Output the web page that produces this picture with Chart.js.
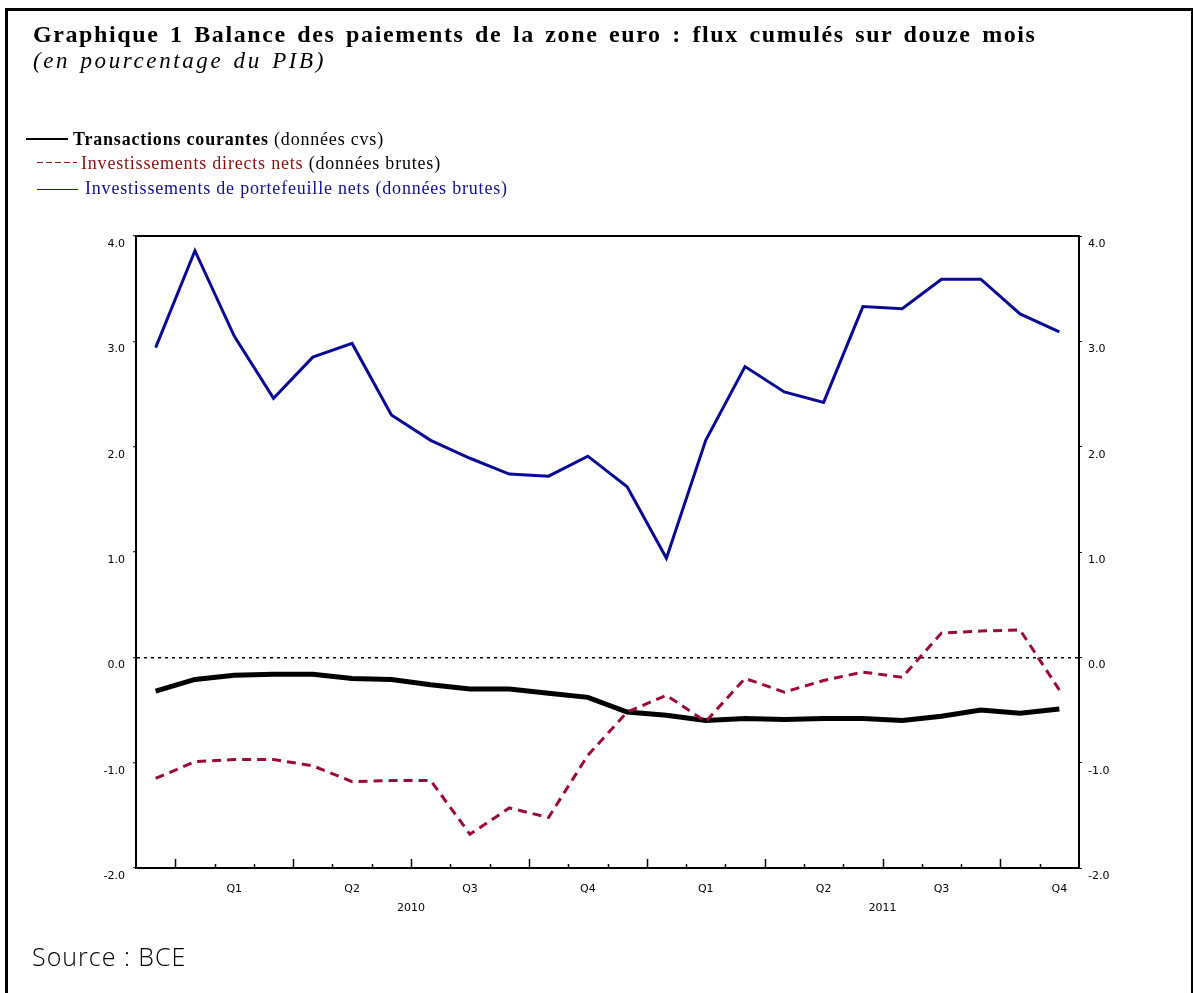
<!DOCTYPE html>
<html><head><meta charset="utf-8">
<script src="https://cdn.jsdelivr.net/npm/chart.js@4.4.1/dist/chart.umd.min.js"></script>
<style>
html,body{margin:0;padding:0;background:#fff;width:1193px;height:993px;overflow:hidden;}
#frame{position:absolute;left:5px;top:8px;width:1183px;height:1100px;border:3px solid #000;border-bottom:none;}
#c{position:absolute;left:0;top:0;}
.t{position:absolute;white-space:nowrap;font-family:"Liberation Serif","Times New Roman",serif;color:#000;}
#title{left:33px;top:22px;font-size:24px;line-height:24px;font-weight:bold;letter-spacing:1.6px;word-spacing:3px;}
#sub{left:33px;top:49px;font-size:23px;line-height:23px;font-style:italic;letter-spacing:2.6px;word-spacing:2px;}
.lg{font-size:18px;line-height:18px;letter-spacing:0.8px;}
.mk{position:absolute;}
#src{position:absolute;left:32px;top:944px;font-family:"Open Sans",sans-serif;font-size:25px;line-height:24px;font-weight:300;letter-spacing:1px;color:#000;white-space:nowrap;}
</style></head>
<body>
<div id="frame"></div>
<canvas id="c" width="1193" height="993"></canvas>
<div class="t" id="title">Graphique 1 Balance des paiements de la zone euro : flux cumulés sur douze mois</div>
<div class="t" id="sub">(en pourcentage du PIB)</div>
<div class="mk" style="left:26px;top:138px;width:42px;height:2px;background:#000;"></div>
<div class="t lg" style="left:73px;top:130px;"><b>Transactions courantes</b> (données cvs)</div>
<div class="mk" style="left:37px;top:162px;width:40px;height:1px;background:repeating-linear-gradient(90deg,#8b1a1a 0 6px,transparent 6px 9px);"></div>
<div class="t lg" style="left:81px;top:154px;"><span style="color:#8b1010">Investissements directs nets</span> (données brutes)</div>
<div class="mk" style="left:37px;top:189px;width:41px;height:1px;background:#1a1a9a;"></div>
<div class="t lg" style="left:85px;top:179px;color:#10108c;">Investissements de portefeuille nets (données brutes)</div>
<div id="src">Source : BCE</div>
<script>
const months = ['2009-12','2010-01','2010-02','2010-03','2010-04','2010-05','2010-06','2010-07','2010-08','2010-09','2010-10','2010-11',
                '2010-12','2011-01','2011-02','2011-03','2011-04','2011-05','2011-06','2011-07','2011-08','2011-09','2011-10','2011-11'];
const currentAccount = [-0.32,-0.21,-0.17,-0.16,-0.16,-0.20,-0.21,-0.26,-0.30,-0.30,-0.34,-0.38,
                        -0.52,-0.55,-0.60,-0.58,-0.59,-0.58,-0.58,-0.60,-0.56,-0.50,-0.53,-0.49];
const directInvestment = [-1.15,-0.99,-0.97,-0.97,-1.03,-1.18,-1.17,-1.17,-1.68,-1.43,-1.52,-0.93,
                          -0.52,-0.36,-0.61,-0.20,-0.33,-0.22,-0.14,-0.19,0.23,0.25,0.26,-0.31];
const portfolioInvestment = [2.94,3.86,3.05,2.46,2.85,2.98,2.30,2.06,1.89,1.74,1.72,1.91,
                             1.62,0.94,2.06,2.76,2.52,2.42,3.33,3.31,3.59,3.59,3.26,3.09];
const yTicks = [-2,-1,0,1,2,3,4];
const quarterLabels = {'02':'Q1','05':'Q2','08':'Q3','11':'Q4'};
const quarterStarts = ['01','04','07','10'];
const yearLabels = ['2010','2011'];

const tickFont = {family:'"DejaVu Sans", sans-serif', size:11};

const frameAndTicks = {
  id:'frameAndTicks',
  afterDraw(chart){
    const {ctx, chartArea:a, scales:{x}} = chart;
    ctx.save();
    ctx.strokeStyle = '#000';
    ctx.lineWidth = 2;
    ctx.beginPath(); ctx.moveTo(a.left-1, a.top); ctx.lineTo(a.right+1, a.top); ctx.stroke();
    ctx.lineWidth = 1.5;
    for (let i = 1; i < months.length; i++) {
      const px = Math.round(x.getPixelForValue(i - 0.5)) + 0.5;
      const len = quarterStarts.includes(months[i].slice(5)) ? 9 : 4;
      ctx.beginPath(); ctx.moveTo(px, a.bottom); ctx.lineTo(px, a.bottom - len); ctx.stroke();
    }
    ctx.restore();
  }
};

new Chart(document.getElementById('c'), {
  type:'line',
  data:{
    labels: months,
    datasets:[
      {label:'Transactions courantes', data:currentAccount, borderColor:'#000', borderWidth:5, pointRadius:0, tension:0, order:1, yAxisID:'y', xAxisID:'x'},
      {label:'Investissements directs nets', data:directInvestment, borderColor:'#9c0a3c', borderWidth:3, borderDash:[9,6], pointRadius:0, tension:0, order:0, yAxisID:'y', xAxisID:'x'},
      {label:'Investissements de portefeuille nets', data:portfolioInvestment, borderColor:'#0a0a94', borderWidth:3, pointRadius:0, tension:0, order:2, yAxisID:'y', xAxisID:'x'}
    ]
  },
  options:{
    responsive:false, animation:false, devicePixelRatio:1,
    layout:{padding:{top:236,left:0,right:0,bottom:77}},
    plugins:{legend:{display:false}, tooltip:{enabled:false}, title:{display:false}},
    scales:{
      x:{type:'category', position:'bottom', offset:true, weight:0,
         grid:{display:false, drawTicks:false},
         border:{display:true, color:'#000', width:2},
         ticks:{autoSkip:false, maxRotation:0, minRotation:0, padding:15, font:tickFont, color:'#000',
                callback:(v,i)=> quarterLabels[months[i].slice(5)] || ''},
         afterFit(s){ s.height = 28; }},
      x2:{type:'linear', position:'bottom', weight:1, min:-0.5, max:months.length-0.5,
          grid:{display:false, drawTicks:false}, border:{display:false},
          afterBuildTicks(s){ s.ticks = yearLabels.map(y => ({value: months.indexOf(y + '-07') - 0.5})); },
          ticks:{autoSkip:false, maxRotation:0, padding:6, font:tickFont, color:'#000',
                 callback:(v,i)=> yearLabels[i]},
          afterFit(s){ s.height = 20; }},
      y:{position:'left', min:-2, max:4,
         afterBuildTicks(s){ s.ticks = yTicks.map(v => ({value:v})); },
         ticks:{padding:8, labelOffset:8, font:tickFont, color:'#000', callback:v => v.toFixed(1)},
         grid:{color: c => (c.tick && c.tick.value === 0) ? '#000' : 'rgba(0,0,0,0)', lineWidth:1.5,
               drawTicks:true, tickLength:3, tickColor:'#000', tickWidth:1},
         border:{display:true, color:'#000', width:2, dash:[3,4]},
         afterFit(s){ s.width = 136; }},
      y2:{position:'right', min:-2, max:4,
          afterBuildTicks(s){ s.ticks = yTicks.map(v => ({value:v})); },
          ticks:{padding:6, labelOffset:8, font:tickFont, color:'#000', callback:v => v.toFixed(1)},
          grid:{drawOnChartArea:false, drawTicks:true, tickLength:3, tickColor:'#000', tickWidth:1},
          border:{display:true, color:'#000', width:2},
          afterFit(s){ s.width = 114; }}
    }
  },
  plugins:[frameAndTicks]
});
</script>
</body></html>
